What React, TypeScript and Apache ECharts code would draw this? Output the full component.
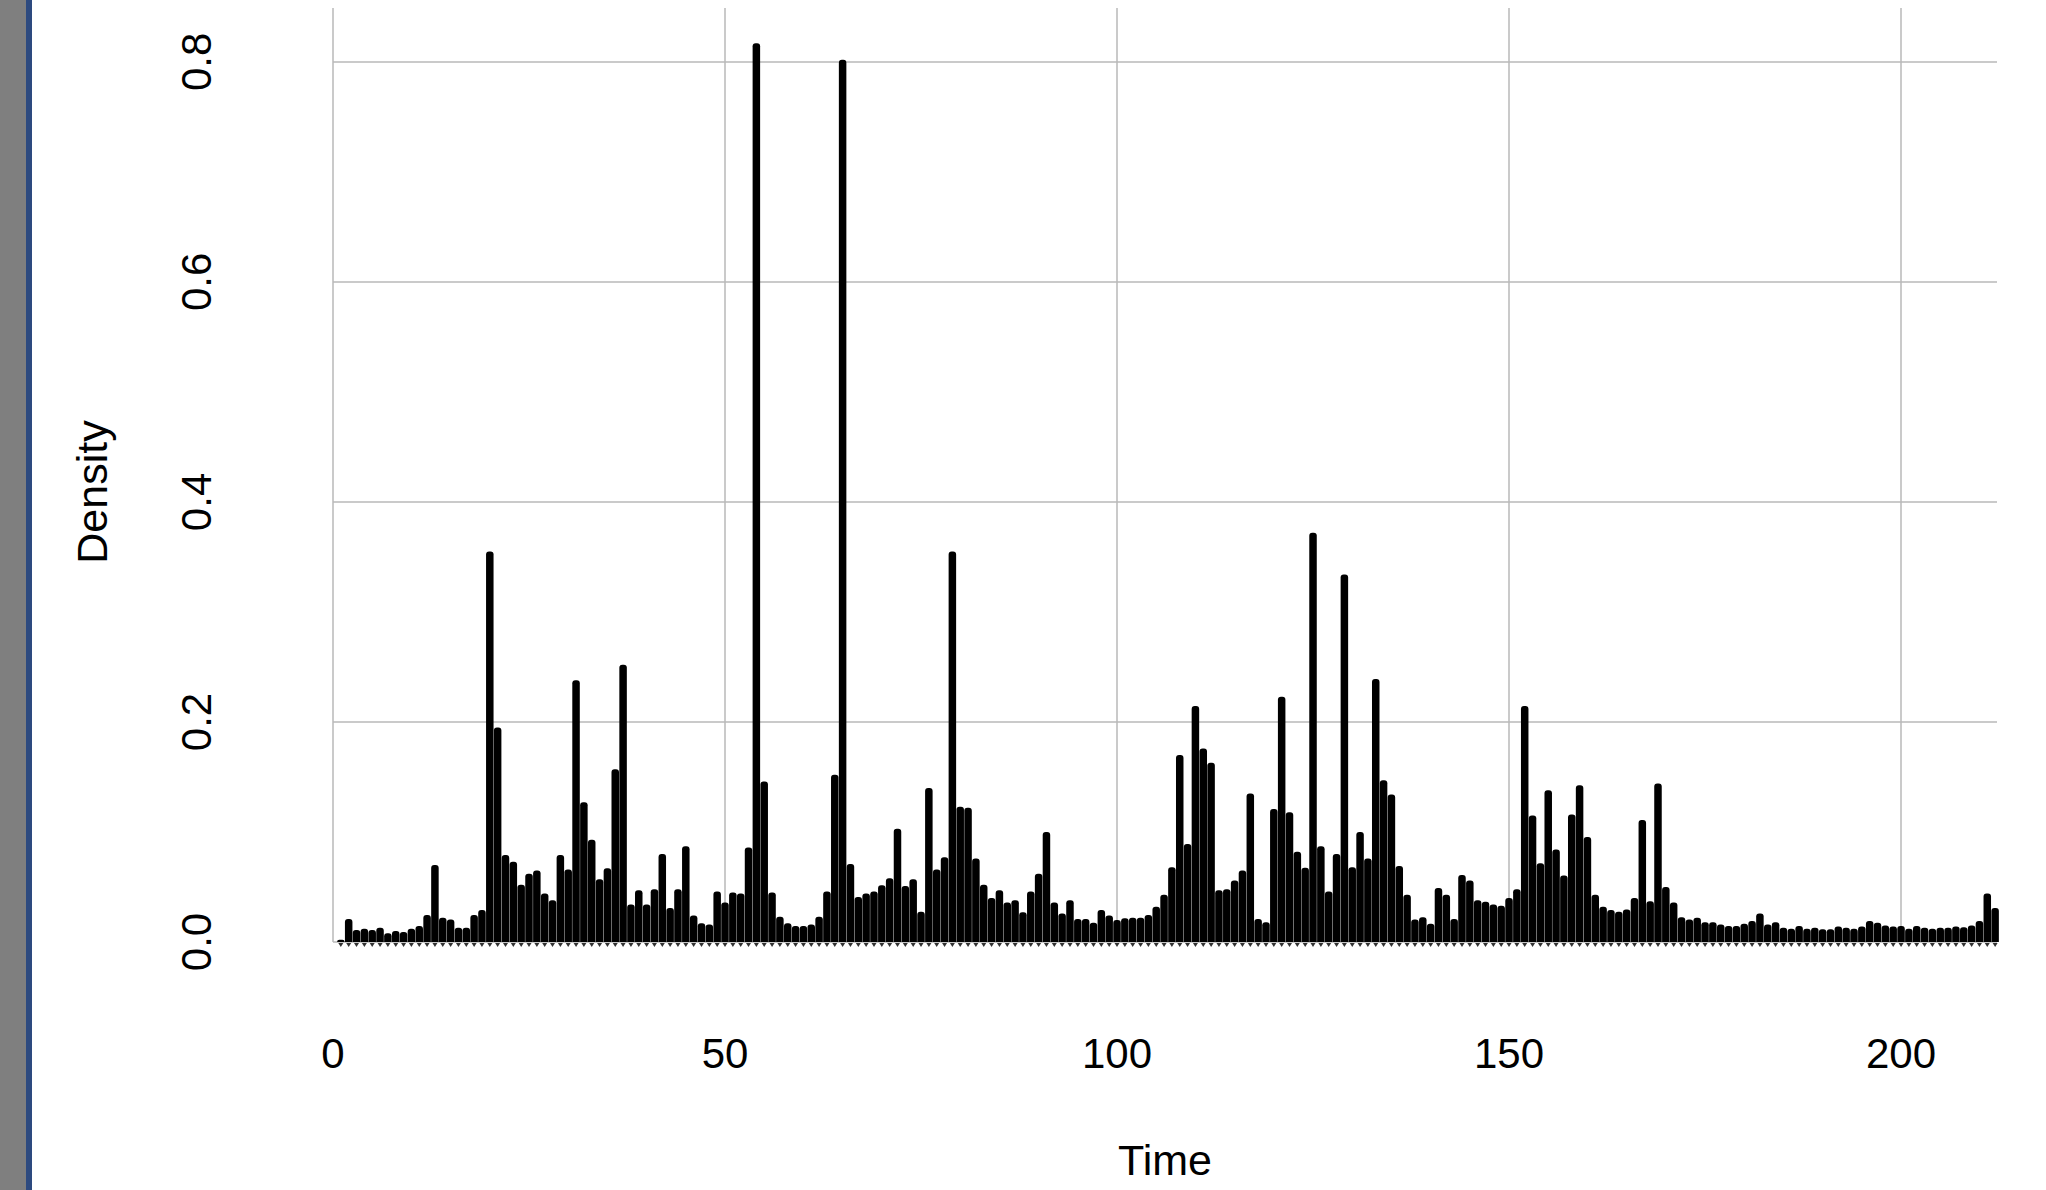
import React, { useEffect, useRef } from "react";
import * as echarts from "echarts";

// Density value for each integer time step, starting at Time = 1
const startTime = 1;
const density: number[] = [
  0.002, 0.021, 0.011, 0.012, 0.011, 0.013, 0.008, 0.010, 0.009, 0.012,
  0.0145, 0.0245, 0.070, 0.022, 0.0205, 0.013, 0.013, 0.0245, 0.029, 0.355,
  0.195, 0.079, 0.073, 0.052, 0.062, 0.065, 0.044, 0.038, 0.079, 0.066,
  0.238, 0.127, 0.093, 0.057, 0.067, 0.157, 0.252, 0.034, 0.047, 0.034,
  0.048, 0.080, 0.031, 0.048, 0.087, 0.024, 0.017, 0.016, 0.046, 0.036,
  0.045, 0.044, 0.086, 0.817, 0.146, 0.045, 0.023, 0.017, 0.0145, 0.0145,
  0.016, 0.023, 0.046, 0.152, 0.802, 0.071, 0.041, 0.044, 0.046, 0.0515,
  0.058, 0.103, 0.051, 0.057, 0.0275, 0.140, 0.066, 0.077, 0.355, 0.123,
  0.122, 0.076, 0.052, 0.040, 0.047, 0.036, 0.038, 0.027, 0.046, 0.062,
  0.100, 0.036, 0.026, 0.038, 0.021, 0.021, 0.0175, 0.029, 0.024, 0.020,
  0.0215, 0.022, 0.022, 0.0245, 0.032, 0.043, 0.068, 0.170, 0.089, 0.2145,
  0.176, 0.163, 0.047, 0.048, 0.056, 0.065, 0.135, 0.021, 0.018, 0.121,
  0.223, 0.118, 0.082, 0.0675, 0.372, 0.087, 0.046, 0.080, 0.334, 0.068,
  0.100, 0.076, 0.239, 0.147, 0.134, 0.069, 0.043, 0.0205, 0.0225, 0.0165,
  0.049, 0.043, 0.021, 0.061, 0.056, 0.038, 0.0365, 0.034, 0.033, 0.040,
  0.048, 0.2145, 0.115, 0.0715, 0.138, 0.084, 0.0605, 0.116, 0.1425, 0.0955,
  0.043, 0.032, 0.029, 0.0275, 0.0295, 0.040, 0.111, 0.037, 0.144, 0.050,
  0.036, 0.0225, 0.0205, 0.022, 0.018, 0.018, 0.016, 0.0145, 0.0145, 0.0165,
  0.019, 0.026, 0.016, 0.018, 0.013, 0.012, 0.0145, 0.012, 0.013, 0.0115,
  0.0115, 0.014, 0.013, 0.012, 0.014, 0.019, 0.0175, 0.015, 0.014, 0.0145,
  0.012, 0.0145, 0.013, 0.012, 0.013, 0.013, 0.014, 0.0135, 0.015, 0.019,
  0.044, 0.031,
];

const xTitle = "Time";
const yTitle = "Density";
const xRange = [0, 212.24];
const yRange = [0, 0.849];
const xStep = 50;
const yStep = 0.2;

const FONT = "'Liberation Sans', Arial, Helvetica, sans-serif";

export default function App() {
  const ref = useRef<HTMLDivElement>(null);

  useEffect(() => {
    if (!ref.current) return;
    const chart = echarts.init(ref.current, null, { renderer: "svg" });
    const barData = density.map((v, i) => [startTime + i, v]);
    const rugData = density.map((_, i) => [startTime + i, 0]);

    chart.setOption({
      animation: false,
      backgroundColor: "#ffffff",
      textStyle: { fontFamily: FONT },
      grid: { left: 333, right: 49, top: 8, bottom: 248, containLabel: false },
      graphic: [
        { type: "rect", left: 0, top: 0, shape: { x: 0, y: 0, width: 26, height: 1190 }, style: { fill: "#7f7f7f" }, silent: true },
        { type: "rect", left: 26, top: 0, shape: { x: 0, y: 0, width: 6, height: 1190 }, style: { fill: "#2d4a7f" }, silent: true },
      ],
      xAxis: {
        type: "value",
        min: xRange[0],
        max: xRange[1],
        interval: xStep,
        name: xTitle,
        nameLocation: "middle",
        nameGap: 196,
        nameTextStyle: { fontSize: 43, color: "#000", fontFamily: FONT },
        axisLine: { show: false },
        axisTick: { show: false },
        axisLabel: {
          fontSize: 42,
          color: "#000",
          margin: 90,
          showMaxLabel: false,
          fontFamily: FONT,
        },
        splitLine: {
          show: true,
          showMaxLine: false,
          lineStyle: { color: "#b8b8b8", width: 1.5 },
        },
      },
      yAxis: {
        type: "value",
        min: yRange[0],
        max: yRange[1],
        interval: yStep,
        name: yTitle,
        nameLocation: "middle",
        nameRotate: 90,
        nameGap: 220,
        nameTextStyle: { fontSize: 43, color: "#000", fontFamily: FONT, padding: [0, 34, 0, 0] },
        axisLine: { show: false },
        axisTick: { show: false },
        axisLabel: {
          fontSize: 42,
          color: "#000",
          rotate: 90,
          margin: 116,
          showMaxLabel: false,
          fontFamily: FONT,
          formatter: (v: number) => v.toFixed(1),
        },
        splitLine: {
          show: true,
          showMaxLine: false,
          lineStyle: { color: "#b8b8b8", width: 1.5 },
        },
      },
      series: [
        {
          type: "bar",
          data: barData,
          barWidth: 7.5,
          itemStyle: { color: "#000000", borderRadius: [3, 3, 0, 0] },
          z: 3,
        },
        {
          type: "scatter",
          data: rugData,
          symbol: "triangle",
          symbolRotate: 180,
          symbolSize: [5, 4],
          symbolOffset: [0, 3],
          itemStyle: { color: "#000000" },
          clip: false,
          silent: true,
          z: 4,
        },
      ],
    });

    return () => chart.dispose();
  }, []);

  return (
    <div
      ref={ref}
      style={{ position: "fixed", left: 0, top: 0, width: 2046, height: 1190, background: "#fff" }}
    />
  );
}
